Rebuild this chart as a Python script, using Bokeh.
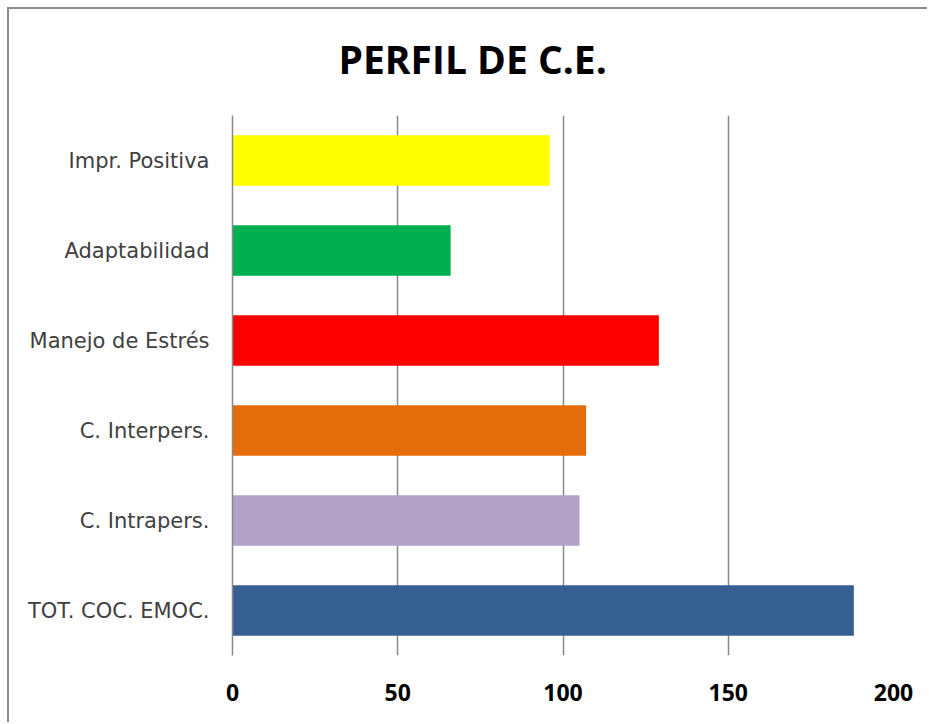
from bokeh.plotting import figure
from bokeh.models import FactorRange, Range1d, FixedTicker, Title, ColumnDataSource
from bokeh.embed import file_html
from bokeh.resources import INLINE

# Data (bottom to top)
categories = ["TOT. COC. EMOC.", "C. Intrapers.", "C. Interpers.",
              "Manejo de Estrés", "Adaptabilidad", "Impr. Positiva"]
values = [188, 105, 107, 129, 66, 96]
colors = ["#376092", "#B3A2C7", "#E46C0A", "#FF0000", "#00B050", "#FFFF00"]
x_ticks = [0, 50, 100, 150, 200]
title_text = "PERFIL DE C.E."

source = ColumnDataSource(dict(cat=categories, val=values, color=colors))

p = figure(width=927, height=722, output_backend="svg", toolbar_location=None,
           y_range=FactorRange(factors=categories, range_padding=0),
           x_range=Range1d(0, 200),
           min_border_left=232, min_border_right=34,
           min_border_top=115, min_border_bottom=67)
# chart-area border (left and top edges visible), drawn as CSS background lines
p.styles = {"background": "linear-gradient(#8c8c8c, #8c8c8c) 7px 7px / 2px calc(100% - 7px) no-repeat, "
                          "linear-gradient(#8c8c8c, #8c8c8c) 7px 7px / calc(100% - 7px) 2px no-repeat, "
                          "white"}
p.outline_line_color = None
p.background_fill_color = "white"
p.border_fill_color = None

p.hbar(y="cat", right="val", left=0, height=0.56, color="color",
       line_color=None, source=source)

# x axis
p.xaxis.ticker = FixedTicker(ticks=x_ticks)
p.xaxis.axis_line_color = None
p.xaxis.major_tick_line_color = None
p.xaxis.major_tick_out = 0
p.xaxis.minor_tick_line_color = None
p.xaxis.major_label_standoff = 28
p.xaxis.major_label_text_font = "Open Sans"
p.xaxis.major_label_text_font_style = "bold"
p.xaxis.major_label_text_font_size = "23px"
p.xaxis.major_label_text_color = "#000000"

# y axis
p.yaxis.axis_line_color = "#898989"
p.yaxis.axis_line_width = 1.5
p.yaxis.major_tick_line_color = None
p.yaxis.major_tick_out = 0
p.yaxis.minor_tick_line_color = None
p.yaxis.major_label_standoff = 23
p.yaxis.major_label_text_font = "DejaVu Sans"
p.yaxis.major_label_text_font_size = "21px"
p.yaxis.major_label_text_color = "#404040"

p.ygrid.grid_line_color = None
p.xgrid.ticker = FixedTicker(ticks=x_ticks)
p.xgrid.grid_line_color = "#898989"
p.xgrid.grid_line_width = 1.5

p.title = Title(text=title_text, align="left", offset=106, standoff=57,
                vertical_align="top",
                text_font="Open Sans", text_font_style="bold", text_font_size="39px",
                text_color="#000000")

open("out.html", "w").write(file_html(p, INLINE))
